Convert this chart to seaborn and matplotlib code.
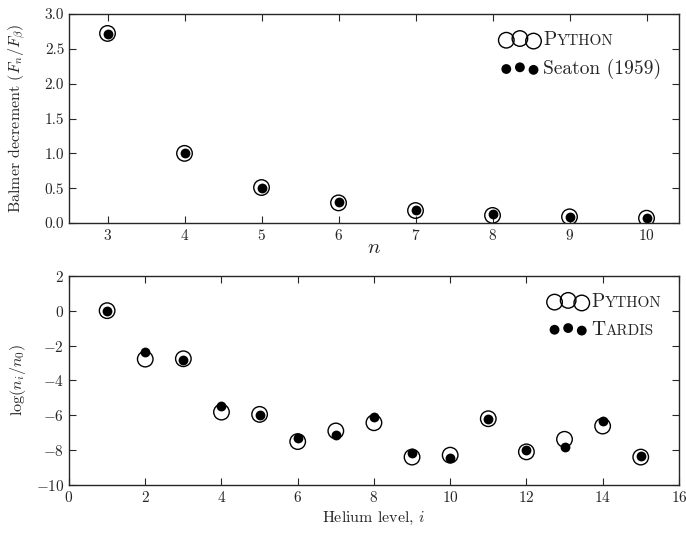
import numpy as np
import pandas as pd
import matplotlib
matplotlib.use("Agg")
import matplotlib.pyplot as plt
import seaborn as sns
from matplotlib.offsetbox import HPacker, TextArea

# top panel: Balmer decrement
n_levels = [3, 4, 5, 6, 7, 8, 9, 10]
balmer_python = [2.72, 1.00, 0.51, 0.29, 0.18, 0.11, 0.09, 0.07]
balmer_seaton = [2.71, 1.00, 0.50, 0.30, 0.19, 0.13, 0.09, 0.07]

# bottom panel: helium level populations
he_level = [1, 2, 3, 4, 5, 6, 7, 8, 9, 10, 11, 12, 13, 14, 15]
he_python = [0.0, -2.78, -2.76, -5.82, -5.95, -7.51, -6.90, -6.43, -8.40, -8.29, -6.20, -8.10, -7.38, -6.62, -8.40]
he_tardis = [0.0, -2.40, -2.81, -5.48, -5.99, -7.32, -7.13, -6.10, -8.17, -8.44, -6.20, -8.02, -7.81, -6.33, -8.35]

sns.set_style("ticks")
plt.rcParams['font.family'] = 'serif'
plt.rcParams['font.serif'] = ['cmr10', 'DejaVu Serif']
plt.rcParams['mathtext.fontset'] = 'cm'
plt.rcParams['axes.formatter.use_mathtext'] = True
plt.rcParams['axes.unicode_minus'] = True
plt.rcParams['xtick.direction'] = 'in'
plt.rcParams['ytick.direction'] = 'in'
plt.rcParams['xtick.top'] = True
plt.rcParams['ytick.right'] = True
plt.rcParams['xtick.major.size'] = 5
plt.rcParams['ytick.major.size'] = 5
plt.rcParams['axes.linewidth'] = 1.0
plt.rcParams['xtick.labelsize'] = 11
plt.rcParams['ytick.labelsize'] = 11

fig = plt.figure(figsize=(6.86, 5.35), dpi=100)
ax1 = fig.add_axes([0.1006, 0.583, 0.889, 0.391])
ax2 = fig.add_axes([0.1006, 0.0935, 0.889, 0.391])

df_top = pd.DataFrame({"n": n_levels, "python": balmer_python, "seaton": balmer_seaton})
df_bot = pd.DataFrame({"i": he_level, "python": he_python, "tardis": he_tardis})

big = 125
small = 50
leg_fs = 14


def smallcaps_legend(leg, caps):
    # replace legend text with "first letter + smaller capitals"
    rows = []
    for col in leg._legend_handle_box.get_children():
        rows.extend(col.get_children())
    for row, (first, rest) in zip(rows, caps):
        kids = row.get_children()
        new = HPacker(children=[TextArea(first, textprops=dict(fontsize=leg_fs)),
                                TextArea(rest, textprops=dict(fontsize=leg_fs * 0.78))],
                      pad=0, sep=0, align="baseline")
        new.set_figure(fig)
        kids[1] = new
        row._children = kids


def draw_panel(ax, df, x, a, b, lab_a, lab_b, caps):
    sns.scatterplot(data=df, x=x, y=a, ax=ax, s=big, facecolors='none',
                    edgecolor='black', linewidth=1.0, marker='o', label=lab_a)
    sns.scatterplot(data=df, x=x, y=b, ax=ax, s=small, color='black',
                    edgecolor='black', linewidth=0, marker='o', label=lab_b)
    leg = ax.legend(loc='upper right', frameon=False, scatterpoints=3,
                    fontsize=leg_fs, handletextpad=0.2, borderaxespad=0.5,
                    labelspacing=0.5, handlelength=2.0)
    smallcaps_legend(leg, caps)


draw_panel(ax1, df_top, "n", "python", "seaton", "Python", "Seaton (1959)",
           [("P", "YTHON")])
ax1.set_xlim(2.5, 10.42)
ax1.set_ylim(0, 3.0)
ax1.set_yticks(np.arange(0, 3.01, 0.5))
ax1.set_xticks(n_levels)
ax1.set_yticklabels([f"{v:.1f}" for v in np.arange(0, 3.01, 0.5)])
ax1.set_xlabel("$n$", fontsize=15, labelpad=-3)
ax1.set_ylabel(r"Balmer decrement $(F_n/F_\beta)$", fontsize=11.5)
ax1.yaxis.set_label_coords(-0.068, 0.5)

draw_panel(ax2, df_bot, "i", "python", "tardis", "Python", "Tardis",
           [("P", "YTHON"), ("T", "ARDIS")])
ax2.set_xlim(0, 16)
ax2.set_ylim(-10, 2)
ax2.set_xticks(np.arange(0, 17, 2))
ax2.set_yticks(np.arange(-10, 3, 2))
ax2.set_xlabel("Helium level, $i$", fontsize=11.5)
ax2.set_ylabel(r"$\log(n_i/n_0)$", fontsize=11.5)
ax2.yaxis.set_label_coords(-0.068, 0.5)

fig.savefig("out.png", dpi=100)
